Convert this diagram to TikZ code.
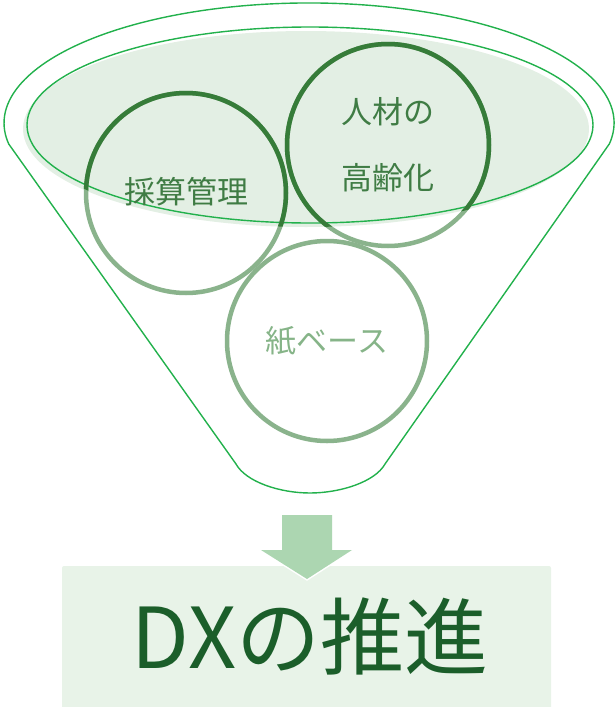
\documentclass[tikz,border=0pt]{standalone}
\usepackage{fontspec}
\newfontfamily\jp{Noto Sans CJK JP}
\definecolor{funnelgreen}{HTML}{22B14C}
\definecolor{ellfill}{HTML}{E3EFE4}
\definecolor{darkring}{HTML}{367C39}
\definecolor{lightring}{HTML}{8AB38C}
\definecolor{midtext}{HTML}{3F7C44}
\definecolor{lighttext}{HTML}{86B488}
\definecolor{arrowfill}{HTML}{ACD6B1}
\definecolor{boxfill}{HTML}{E8F3E8}
\definecolor{boxtext}{HTML}{1B5E2A}
\tikzset{
  outline/.style={draw=funnelgreen, line width=1.4pt},
  ring/.style={line width=4.5pt},
  lbl/.style={font=\jp\fontsize{31}{31}\selectfont, inner sep=0pt},
}
\begin{document}
\begin{tikzpicture}[x=1pt,y=1pt]
\useasboundingbox (0,0) rectangle (615,-707);
% funnel outline
\draw[outline, line join=round]
  (8.6,-143.8) -- (236,-464)
  .. controls (246,-482) and (280,-493) .. (310,-493)
  .. controls (340,-493) and (375,-482) .. (385,-464)
  -- (609.4,-143.8)
  arc[start angle=-10, end angle=190, x radius=305pt, y radius=120pt] -- cycle;
% inner ellipse fill (offset shadow-like) and outline
\fill[ellfill] (306,-129) ellipse [x radius=283pt, y radius=98pt];
\draw[outline] (310,-125) ellipse [x radius=283pt, y radius=98pt];
% rings, light everywhere
\draw[ring, draw=lightring] (186,-193) circle [radius=100pt];
\draw[ring, draw=lightring] (388,-145) circle [radius=101pt];
\draw[ring, draw=lightring] (327,-341) circle [radius=100pt];
% rings, dark inside the ellipse
\begin{scope}
  \clip (308,-127) ellipse [x radius=285pt, y radius=100pt];
  \draw[ring, draw=darkring] (186,-193) circle [radius=100pt];
  \draw[ring, draw=darkring] (388,-145) circle [radius=101pt];
\end{scope}
% labels
\node[lbl, text=midtext] (saisan) at (186,-192) {採算管理};
\node[lbl, text=midtext] (jinzai) at (388,-112) {人材の};
\node[lbl, text=midtext] (koreika) at (388,-178) {高齢化};
\node[lbl, text=lighttext] (kami) at (327,-341) {紙ベース};
% result box
\fill[boxfill, rounded corners=2pt] (62,-566) rectangle (551,-712);
% arrow
\draw[draw=white, line width=3pt, fill=arrowfill, line join=miter]
  (282,-515) -- (332,-515) -- (332,-550) -- (352,-550) -- (307,-579)
  -- (261,-550) -- (282,-550) -- cycle;
\fill[arrowfill] (282,-515) -- (332,-515) -- (332,-550) -- (352,-550) -- (307,-579)
  -- (261,-550) -- (282,-550) -- cycle;
\node[font=\jp\fontsize{84}{84}\selectfont, text=boxtext, inner sep=0pt] (dx) at (310,-636) {DXの推進};
\end{tikzpicture}
\end{document}
